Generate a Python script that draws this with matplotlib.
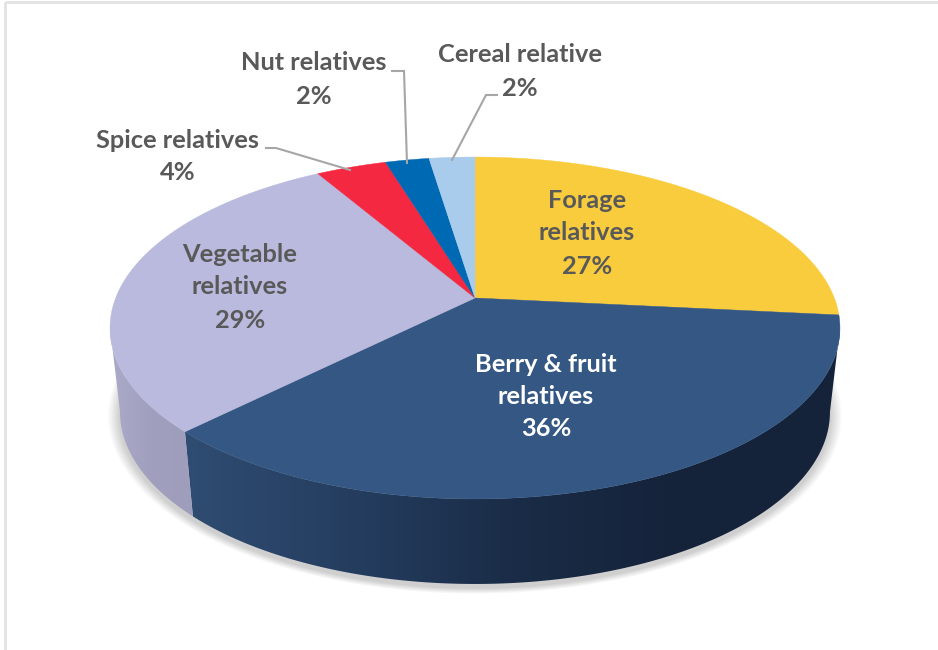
import numpy as np
import matplotlib
matplotlib.use("Agg")
import matplotlib.pyplot as plt
from matplotlib.patches import Polygon, Rectangle
from matplotlib.colors import LinearSegmentedColormap

categories = ["Forage relatives", "Berry & fruit relatives", "Vegetable relatives",
              "Spice relatives", "Nut relatives", "Cereal relative"]
values = [26.6, 35.9, 29.1, 3.7, 2.3, 2.4]
percent_labels = ["27%", "36%", "29%", "4%", "2%", "2%"]
top_colors = ["#F9CC3E", "#345784", "#B9BADD", "#F42840", "#0069B4", "#A9CBEC"]

plt.rcParams["font.family"] = ["Lato", "DejaVu Sans"]

W, H = 938, 650
fig = plt.figure(figsize=(W / 100, H / 100), dpi=100)
ax = fig.add_axes([0, 0, 1, 1])
ax.set_xlim(0, W)
ax.set_ylim(H, 0)
ax.axis("off")

# border of the chart area
ax.add_patch(Rectangle((5, 2), W + 10, H + 10, fc="none", ec="#E2E2E2", lw=2, zorder=1))

# perspective projection of the pie disc
CX, CY = 475.0, 298.0
A, B, P = 165.7, 359.3, 0.1754

def top_pts(theta):
    u, v = np.sin(theta), np.cos(theta)
    d = 1 + P * v
    return np.column_stack([CX + B * u / d, CY - A * v / d])

def bot_pts(theta):
    p = top_pts(theta)
    return np.column_stack([CX + (p[:, 0] - CX) * 0.9726, 412 + (p[:, 1] - 328) * 1.006])

edges = np.concatenate([[0], np.cumsum(values)]) / np.sum(values) * 2 * np.pi

# the disc is widest at these angles, so the wall silhouette starts and ends there
WIDEST_RIGHT = np.radians(100)
WIDEST_LEFT = np.radians(260)

# soft shadow below the disc
full = np.linspace(0, 2 * np.pi, 361)
base = bot_pts(full)
for k in range(12, 0, -1):
    s = 1 + k * 0.0028
    pts = np.column_stack([CX + (base[:, 0] - CX) * s, 412 + (base[:, 1] - 412) * s + 4])
    ax.add_patch(Polygon(pts, fc="#000000", ec="none", alpha=0.014, zorder=2))

# side walls with a horizontal gradient
walls = {
    1: ["#2F4C72", "#253E60", "#1A2C47", "#15233A", "#15233A"],
    2: ["#ABABC9", "#A0A0BE", "#9E9EBC"],
}
for idx, cols in walls.items():
    th = np.linspace(max(edges[idx], WIDEST_RIGHT), min(edges[idx + 1], WIDEST_LEFT), 200)
    poly = np.vstack([top_pts(th), bot_pts(th)[::-1]])
    patch = Polygon(poly, fc="none", ec="none", zorder=3)
    ax.add_patch(patch)
    cmap = LinearSegmentedColormap.from_list("w", cols)
    x0, x1 = poly[:, 0].min(), poly[:, 0].max()
    y0, y1 = poly[:, 1].min(), poly[:, 1].max()
    im = ax.imshow(np.linspace(0, 1, 256).reshape(1, -1), cmap=cmap, aspect="auto",
                   extent=(x0, x1, y1, y0), zorder=3, interpolation="bilinear")
    im.set_clip_path(patch)
ax.set_xlim(0, W)
ax.set_ylim(H, 0)

# top faces
for i, c in enumerate(top_colors):
    th = np.linspace(edges[i], edges[i + 1], 200)
    pts = np.vstack([[CX, CY], top_pts(th)])
    ax.add_patch(Polygon(pts, fc=c, ec=c, lw=0.3, zorder=4))

# leader lines
leaders = [
    ([266, 276, 350], [148, 148, 170]),
    ([392, 404, 407], [71, 71, 163]),
    ([497, 486, 452], [95, 95, 160]),
]
for lx, ly in leaders:
    ax.plot(lx, ly, color="#A6A6A6", lw=1.5, zorder=5, solid_joinstyle="miter")

# labels
label_layout = [
    (587, [201, 232, 266], ["Forage", "relatives"], "#595959"),
    (546, [364, 396, 429], ["Berry & fruit", "relatives"], "white"),
    (240, [255, 286, 320], ["Vegetable", "relatives"], "#595959"),
    (178, [140, 172], ["Spice relatives"], "#595959"),
    (314, [63, 96], ["Nut relatives"], "#595959"),
    (520, [54, 88], ["Cereal relative"], "#595959"),
]
for (x, ys, lines, col), pct in zip(label_layout, percent_labels):
    for y, s in zip(ys, lines + [pct]):
        ax.text(x, y, s, ha="center", va="center", fontsize=18.3, fontweight="bold",
                color=col, zorder=6)

fig.savefig("out.png", dpi=100)
